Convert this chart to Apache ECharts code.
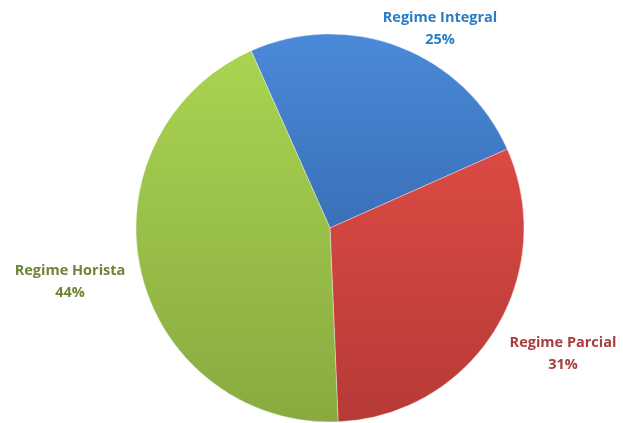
<!DOCTYPE html>
<html>
<head>
<meta charset="utf-8">
<script src="https://cdn.jsdelivr.net/npm/echarts@6/dist/echarts.min.js"></script>
<style>html,body{margin:0;padding:0;background:#fff}#c{width:623px;height:423px}</style>
</head>
<body>
<div id="c"></div>
<script>
const categories = ["Regime Integral", "Regime Parcial", "Regime Horista"];
const values = [25, 31, 44];

const sliceColors = [
  ["#4a8ad8", "#3a70b8"],
  ["#dc4a44", "#b63a36"],
  ["#a9d451", "#88aa40"]
];
const labelColors = ["#2a7cc6", "#a93c3c", "#6e8437"];
const labelPos = [[440, 29], [563, 354], [70, 282]];

const chart = echarts.init(document.getElementById('c'));
chart.setOption({
  animation: false,
  series: [{
    type: 'pie',
    center: [330, 228],
    radius: 194,
    startAngle: 114,
    clockwise: true,
    label: {
      show: true,
      position: 'outside',
      formatter: p => p.name + '\n' + p.value + '%',
      fontFamily: 'Open Sans',
      fontWeight: 'bold',
      fontSize: 14.5,
      lineHeight: 22,
      align: 'center',
      overflow: 'none',
      width: 200
    },
    labelLine: { show: false },
    labelLayout: function (params) {
      const i = params.dataIndex;
      return { x: labelPos[i][0], y: labelPos[i][1], align: 'center', verticalAlign: 'middle' };
    },
    data: categories.map((c, i) => ({
      name: c,
      value: values[i],
      itemStyle: {
        color: new echarts.graphic.LinearGradient(0, 0, 0, 1, [
          { offset: 0, color: sliceColors[i][0] },
          { offset: 1, color: sliceColors[i][1] }
        ]),
        borderColor: 'rgba(255,255,255,0.35)',
        borderWidth: 1
      },
      label: { color: labelColors[i] }
    }))
  }]
});
</script>
</body>
</html>
